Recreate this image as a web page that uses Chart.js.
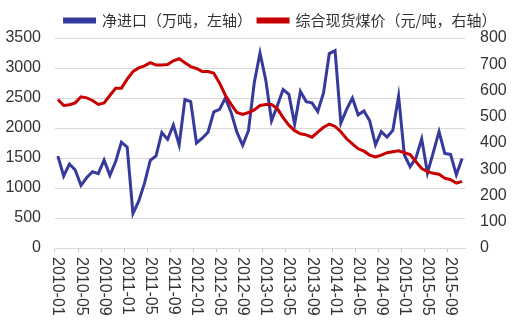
<!DOCTYPE html>
<html>
<head>
<meta charset="utf-8">
<script src="https://cdn.jsdelivr.net/npm/chart.js@4/dist/chart.umd.min.js"></script>
<style>
  html, body { margin: 0; padding: 0; background: #ffffff; }
  canvas { display: block; }
</style>
</head>
<body>
<canvas id="chart" width="521" height="323"></canvas>
<script>
// Monthly categories, 2010-01 .. 2015-11
const months = [
  '2010-01','2010-02','2010-03','2010-04','2010-05','2010-06','2010-07','2010-08','2010-09','2010-10','2010-11','2010-12',
  '2011-01','2011-02','2011-03','2011-04','2011-05','2011-06','2011-07','2011-08','2011-09','2011-10','2011-11','2011-12',
  '2012-01','2012-02','2012-03','2012-04','2012-05','2012-06','2012-07','2012-08','2012-09','2012-10','2012-11','2012-12',
  '2013-01','2013-02','2013-03','2013-04','2013-05','2013-06','2013-07','2013-08','2013-09','2013-10','2013-11','2013-12',
  '2014-01','2014-02','2014-03','2014-04','2014-05','2014-06','2014-07','2014-08','2014-09','2014-10','2014-11','2014-12',
  '2015-01','2015-02','2015-03','2015-04','2015-05','2015-06','2015-07','2015-08','2015-09','2015-10','2015-11'
];

// Labels shown under the x axis (every fourth month)
const tickLabels = [
  '2010-01','2010-05','2010-09','2011-01','2011-05','2011-09','2012-01','2012-05','2012-09',
  '2013-01','2013-05','2013-09','2014-01','2014-05','2014-09','2015-01','2015-05','2015-09'
];

// Net coal imports, 10k tonnes (left axis)
const netImports = [
  1530, 1200, 1400, 1300, 1045, 1175, 1270, 1240, 1465, 1210, 1440, 1765,
  1680,  575,  780, 1080, 1460, 1535, 1925, 1810, 2050, 1720, 2475, 2440,
  1750, 1830, 1930, 2270, 2310, 2500, 2260, 1930, 1710, 1955, 2750, 3250,
  2800, 2120, 2370, 2640, 2560, 2065, 2610, 2440, 2420, 2275, 2585, 3240,
  3290, 2080, 2310, 2500, 2220, 2285, 2120, 1720, 1940, 1850, 1960, 2530,
  1550, 1355, 1500, 1820, 1250, 1590, 1940, 1575, 1560, 1220, 1490
];

// Composite spot coal price, yuan/tonne (right axis)
const coalPrice = [
  566, 543, 546, 553, 576, 572, 562, 547, 553, 581, 609, 609,
  643, 672, 686, 694, 706, 697, 697, 699, 713, 721, 706, 691,
  684, 672, 672, 666, 628, 582, 547, 516, 509, 516, 526, 543,
  547, 547, 531, 497, 468, 447, 435, 431, 422, 441, 460, 472,
  463, 443, 416, 397, 378, 369, 354, 347, 354, 363, 367, 370,
  363, 356, 329, 303, 291, 285, 281, 266, 260, 247, 254
];

const seriesNames = ['净进口（万吨，左轴）', '综合现货煤价（元/吨，右轴）'];

const NUM_FONT = '"Liberation Sans", Arial, Helvetica, sans-serif';
const CJK_FONT = '"Noto Sans CJK SC", "Liberation Sans", sans-serif';
const TEXT_COLOR = '#333333';
const GRID_COLOR = '#d9d9d9';

// Nudge the legend block to the right of centre
const legendShift = {
  id: 'legendShift',
  afterLayout(chart) {
    const lg = chart.legend;
    if (lg) { lg.left += 20; lg.right += 20; }
  }
};

// Vertical (top-to-bottom) date labels under the category axis
const verticalDateLabels = {
  id: 'verticalDateLabels',
  afterDraw(chart) {
    const xs = chart.scales.x;
    const ctx = chart.ctx;
    ctx.save();
    ctx.font = '16px ' + NUM_FONT;
    ctx.fillStyle = TEXT_COLOR;
    ctx.textAlign = 'left';
    ctx.textBaseline = 'middle';
    tickLabels.forEach(label => {
      const idx = months.indexOf(label);
      const px = xs.getPixelForValue(idx);
      ctx.save();
      ctx.translate(px, xs.top + 9);
      ctx.rotate(Math.PI / 2);
      ctx.fillText(label, 0, 0);
      ctx.restore();
    });
    ctx.restore();
  }
};

new Chart(document.getElementById('chart'), {
  type: 'line',
  data: {
    labels: months,
    datasets: [
      {
        label: seriesNames[0],
        data: netImports,
        yAxisID: 'y',
        borderColor: '#353a9c',
        backgroundColor: '#353a9c',
        borderWidth: 3,
        pointRadius: 0,
        tension: 0,
        order: 1
      },
      {
        label: seriesNames[1],
        data: coalPrice,
        yAxisID: 'y1',
        borderColor: '#c80000',
        backgroundColor: '#c80000',
        borderWidth: 3,
        pointRadius: 0,
        tension: 0,
        order: 0
      }
    ]
  },
  options: {
    responsive: false,
    animation: false,
    devicePixelRatio: 1,
    layout: { padding: { top: 7, left: 0, right: 0, bottom: 0 } },
    plugins: {
      tooltip: { enabled: false },
      legend: {
        position: 'top',
        align: 'center',
        labels: {
          boxWidth: 30,
          boxHeight: 3,
          padding: 6,
          color: TEXT_COLOR,
          font: { family: CJK_FONT, size: 15 },
          sort: (a, b) => a.datasetIndex - b.datasetIndex
        }
      }
    },
    scales: {
      x: {
        type: 'category',
        offset: true,
        grid: {
          offset: true,
          drawOnChartArea: false,
          drawTicks: true,
          tickLength: 4,
          tickColor: c => (c.index % 4 === 0 ? '#bfbfbf' : 'rgba(0,0,0,0)')
        },
        border: { display: true, color: GRID_COLOR, width: 1 },
        ticks: { display: false, autoSkip: false },
        afterFit: s => { s.height = 75; }
      },
      y: {
        position: 'left',
        min: 0,
        max: 3500,
        ticks: {
          stepSize: 500,
          padding: 14,
          color: TEXT_COLOR,
          font: { family: NUM_FONT, size: 16 },
          callback: v => String(v)
        },
        grid: { color: GRID_COLOR, drawTicks: false, lineWidth: 1 },
        border: { display: false },
        afterFit: s => { s.width = 55; }
      },
      y1: {
        position: 'right',
        min: 0,
        max: 800,
        ticks: {
          stepSize: 100,
          padding: 15,
          color: TEXT_COLOR,
          font: { family: NUM_FONT, size: 16 },
          callback: v => String(v)
        },
        grid: { drawOnChartArea: false, drawTicks: false },
        border: { display: false },
        afterFit: s => { s.width = 56; }
      }
    }
  },
  plugins: [legendShift, verticalDateLabels]
});
</script>
</body>
</html>
